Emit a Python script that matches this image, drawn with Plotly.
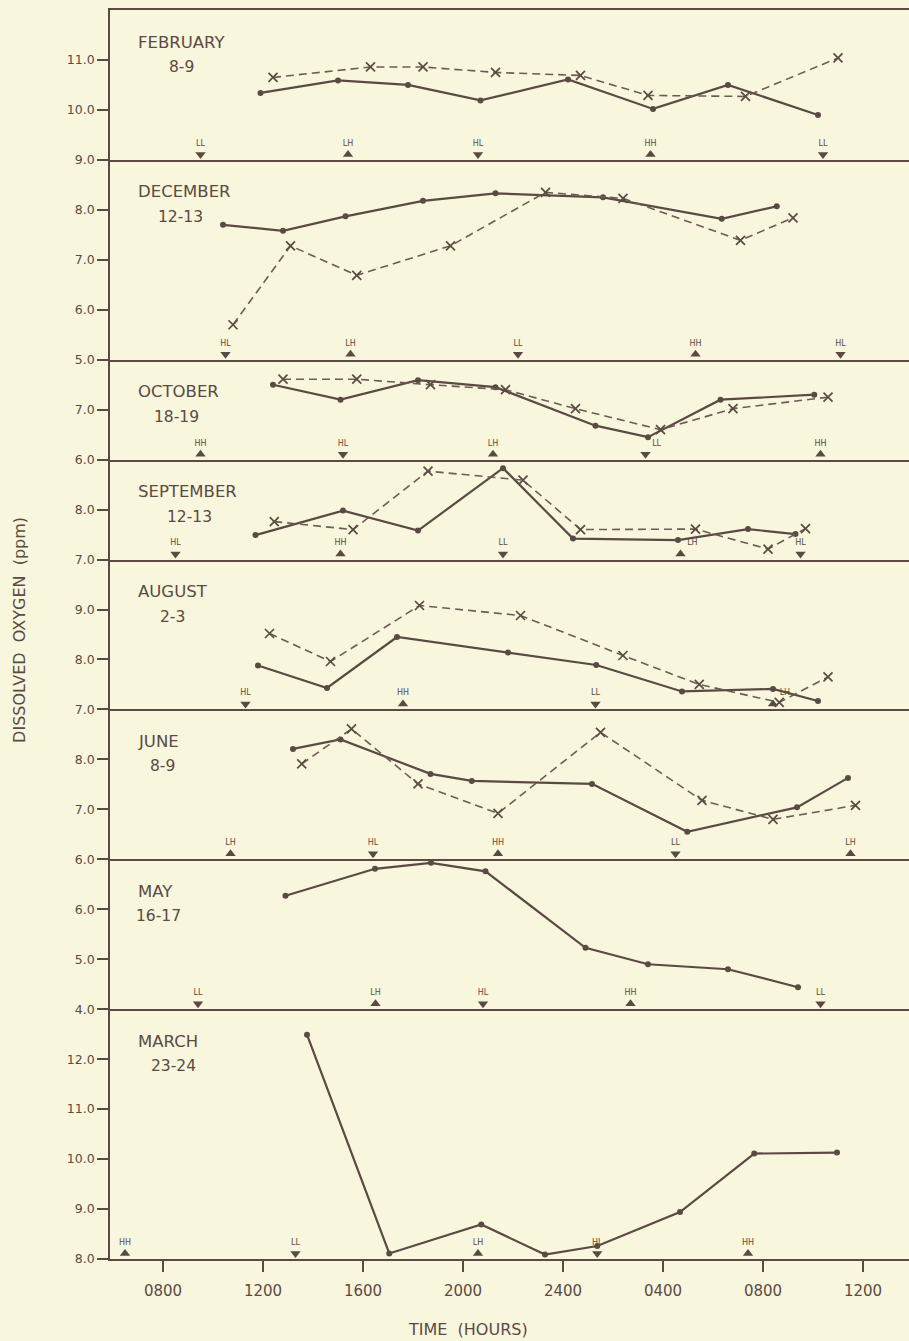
import plotly.graph_objects as go
from plotly.subplots import make_subplots

# ---------------- data (time in hours from 0000 of day 1; DO in ppm) ----------------
MONTHS = ["FEBRUARY", "DECEMBER", "OCTOBER", "SEPTEMBER", "AUGUST", "JUNE", "MAY", "MARCH"]
DATES = ["8-9", "12-13", "18-19", "12-13", "2-3", "8-9", "16-17", "23-24"]
Y_RANGES = [[9, 12], [5, 9], [6, 8], [7, 9], [7, 10], [6, 9], [4, 7], [8, 13]]

X_TICK_HOURS = [8, 12, 16, 20, 24, 28, 32, 36]
X_TICK_TEXT = ["0800", "1200", "1600", "2000", "2400", "0400", "0800", "1200"]

FEB_SOLID_T = [11.9, 15.0, 17.8, 20.7, 24.2, 27.6, 30.6, 34.2]
FEB_SOLID_DO = [10.34, 10.59, 10.50, 10.19, 10.61, 10.02, 10.50, 9.90]
FEB_DASH_T = [12.4, 16.3, 18.4, 21.3, 24.7, 27.4, 31.3, 35.0]
FEB_DASH_DO = [10.65, 10.86, 10.86, 10.75, 10.69, 10.29, 10.27, 11.04]
FEB_TIDE_T = [9.5, 15.4, 20.6, 27.5, 34.4]
FEB_TIDE = ["LL", "LH", "HL", "HH", "LL"]

DEC_SOLID_T = [10.4, 12.8, 15.3, 18.4, 21.3, 25.6, 30.35, 32.55]
DEC_SOLID_DO = [7.70, 7.58, 7.87, 8.18, 8.33, 8.25, 7.82, 8.07]
DEC_DASH_T = [10.8, 13.1, 15.75, 19.5, 23.3, 26.4, 31.1, 33.2]
DEC_DASH_DO = [5.70, 7.28, 6.69, 7.28, 8.35, 8.23, 7.39, 7.84]
DEC_TIDE_T = [10.5, 15.5, 22.2, 29.3, 35.1]
DEC_TIDE = ["HL", "LH", "LL", "HH", "HL"]

OCT_SOLID_T = [12.4, 15.1, 18.2, 21.3, 25.3, 27.4, 30.3, 34.05]
OCT_SOLID_DO = [7.50, 7.20, 7.59, 7.45, 6.68, 6.45, 7.20, 7.30]
OCT_DASH_T = [12.8, 15.75, 18.7, 21.7, 24.5, 27.9, 30.8, 34.6]
OCT_DASH_DO = [7.61, 7.61, 7.50, 7.40, 7.02, 6.60, 7.02, 7.25]
OCT_TIDE_T = [9.5, 15.2, 21.2, 27.3, 34.3]
OCT_TIDE = ["HH", "HL", "LH", "LL", "HH"]

SEP_SOLID_T = [11.7, 15.2, 18.2, 21.6, 24.4, 28.6, 31.4, 33.3]
SEP_SOLID_DO = [7.49, 7.98, 7.58, 8.83, 7.42, 7.39, 7.61, 7.51]
SEP_DASH_T = [12.45, 15.6, 18.6, 22.4, 24.7, 29.3, 32.2, 33.7]
SEP_DASH_DO = [7.76, 7.60, 8.77, 8.59, 7.60, 7.61, 7.21, 7.62]
SEP_TIDE_T = [8.5, 15.1, 21.6, 28.7, 33.5]
SEP_TIDE = ["HL", "HH", "LL", "LH", "HL"]

AUG_SOLID_T = [11.8, 14.56, 17.36, 21.8, 25.33, 28.76, 32.4, 34.2]
AUG_SOLID_DO = [7.88, 7.43, 8.45, 8.14, 7.89, 7.36, 7.41, 7.17]
AUG_DASH_T = [12.26, 14.7, 18.26, 22.3, 26.4, 29.45, 32.65, 34.6]
AUG_DASH_DO = [8.52, 7.96, 9.08, 8.88, 8.08, 7.50, 7.14, 7.65]
AUG_TIDE_T = [11.3, 17.6, 25.3, 32.4]
AUG_TIDE = ["HL", "HH", "LL", "LH"]

JUN_SOLID_T = [13.2, 15.1, 18.7, 20.35, 25.16, 28.97, 33.36, 35.4]
JUN_SOLID_DO = [8.21, 8.40, 7.71, 7.57, 7.51, 6.55, 7.04, 7.63]
JUN_DASH_T = [13.55, 15.54, 18.2, 21.4, 25.5, 29.56, 32.4, 35.7]
JUN_DASH_DO = [7.91, 8.61, 7.51, 6.92, 8.54, 7.18, 6.80, 7.08]
JUN_TIDE_T = [10.7, 16.4, 21.4, 28.5, 35.5]
JUN_TIDE = ["LH", "HL", "HH", "LL", "LH"]

MAY_SOLID_T = [12.9, 16.48, 18.72, 20.9, 24.9, 27.4, 30.6, 33.4]
MAY_SOLID_DO = [6.27, 6.81, 6.93, 6.76, 5.23, 4.90, 4.80, 4.44]
MAY_DASH_T = []
MAY_DASH_DO = []
MAY_TIDE_T = [9.4, 16.5, 20.8, 26.7, 34.3]
MAY_TIDE = ["LL", "LH", "HL", "HH", "LL"]

MAR_SOLID_T = [13.76, 17.05, 20.73, 23.28, 25.37, 28.68, 31.65, 34.96]
MAR_SOLID_DO = [12.49, 8.11, 8.69, 8.09, 8.26, 8.94, 10.11, 10.13]
MAR_DASH_T = []
MAR_DASH_DO = []
MAR_TIDE_T = [6.48, 13.3, 20.6, 25.37, 31.4]
MAR_TIDE = ["HH", "LL", "LH", "HL", "HH"]

SOLID_T = [FEB_SOLID_T, DEC_SOLID_T, OCT_SOLID_T, SEP_SOLID_T, AUG_SOLID_T, JUN_SOLID_T, MAY_SOLID_T, MAR_SOLID_T]
SOLID_DO = [FEB_SOLID_DO, DEC_SOLID_DO, OCT_SOLID_DO, SEP_SOLID_DO, AUG_SOLID_DO, JUN_SOLID_DO, MAY_SOLID_DO, MAR_SOLID_DO]
DASH_T = [FEB_DASH_T, DEC_DASH_T, OCT_DASH_T, SEP_DASH_T, AUG_DASH_T, JUN_DASH_T, MAY_DASH_T, MAR_DASH_T]
DASH_DO = [FEB_DASH_DO, DEC_DASH_DO, OCT_DASH_DO, SEP_DASH_DO, AUG_DASH_DO, JUN_DASH_DO, MAY_DASH_DO, MAR_DASH_DO]
TIDE_T = [FEB_TIDE_T, DEC_TIDE_T, OCT_TIDE_T, SEP_TIDE_T, AUG_TIDE_T, JUN_TIDE_T, MAY_TIDE_T, MAR_TIDE_T]
TIDE = [FEB_TIDE, DEC_TIDE, OCT_TIDE, SEP_TIDE, AUG_TIDE, JUN_TIDE, MAY_TIDE, MAR_TIDE]

# ---------------- style ----------------
BG = "#f8f6dc"
INK = "#5b4a44"
INK2 = "#6c5c54"
FONT = "DejaVu Sans"
X_RANGE = [5.88, 37.84]
TIDE_OFFSET = 0.11          # data units above panel floor (same px scale in every panel)
DATE_CENTER_PX = [181, 180, 176, 189, 172, 162, 158, 173]
TIDE_TEXTPOS = {(2, 3): "top right", (3, 3): "top right", (4, 3): "top right"}
GAP = "\u00a0" * 2

n = len(MONTHS)
heights = [r[1] - r[0] for r in Y_RANGES]
fig = make_subplots(rows=n, cols=1, shared_xaxes=True, vertical_spacing=0,
                    row_heights=[h / sum(heights) for h in heights])

for i in range(n):
    row = i + 1
    fig.add_trace(go.Scatter(x=SOLID_T[i], y=SOLID_DO[i], mode="lines+markers",
                             line=dict(color=INK, width=2.2),
                             marker=dict(symbol="circle", size=6, color=INK),
                             showlegend=False, hoverinfo="skip"), row=row, col=1)
    if DASH_T[i]:
        fig.add_trace(go.Scatter(x=DASH_T[i], y=DASH_DO[i], mode="lines+markers",
                                 line=dict(color=INK2, width=1.6, dash="8px,5px"),
                                 marker=dict(symbol="x-thin", size=9,
                                             line=dict(color=INK, width=1.7)),
                                 showlegend=False, hoverinfo="skip"), row=row, col=1)
    ymin = Y_RANGES[i][0]
    syms = ["triangle-up" if lbl[1] == "H" else "triangle-down" for lbl in TIDE[i]]
    tpos = [TIDE_TEXTPOS.get((i, j), "top center") for j in range(len(TIDE[i]))]
    fig.add_trace(go.Scatter(x=TIDE_T[i], y=[ymin + TIDE_OFFSET] * len(TIDE_T[i]),
                             mode="markers+text", text=TIDE[i], textposition=tpos,
                             textfont=dict(family=FONT, size=8, color=INK),
                             marker=dict(symbol=syms, size=9, color=INK),
                             showlegend=False, hoverinfo="skip"), row=row, col=1)

    ticks = list(range(Y_RANGES[i][0], Y_RANGES[i][1]))
    fig.update_yaxes(range=Y_RANGES[i], tickvals=ticks,
                     ticktext=[f"{v:.1f}" for v in ticks],
                     ticks="outside", ticklen=11, tickwidth=1.5, tickcolor=INK,
                     showline=True, linecolor=INK, linewidth=1.8,
                     showgrid=False, zeroline=False,
                     tickfont=dict(family=FONT, size=12.5, color=INK),
                     row=row, col=1)
    last = (i == n - 1)
    fig.update_xaxes(range=X_RANGE, showline=True, linecolor=INK, linewidth=2,
                     mirror=(i == 0), showgrid=False, zeroline=False,
                     tickvals=X_TICK_HOURS, ticktext=X_TICK_TEXT,
                     ticks="outside" if last else "", ticklen=11, tickwidth=1.5,
                     tickcolor=INK, showticklabels=last,
                     ticklabelstandoff=6 if last else 0,
                     tickfont=dict(family=FONT, size=15, color=INK),
                     row=row, col=1)

    xa = "x" if i == 0 else f"x{row}"
    ya = "y" if i == 0 else f"y{row}"
    fig.add_annotation(text=MONTHS[i], xref=f"{xa} domain", yref=f"{ya} domain",
                       x=0, y=1, xanchor="left", yanchor="middle",
                       xshift=26, yshift=-32, showarrow=False,
                       font=dict(family=FONT, size=16.5, color=INK))
    fig.add_annotation(text=DATES[i], xref=f"{xa} domain", yref=f"{ya} domain",
                       x=0, y=1, xanchor="center", yanchor="middle",
                       xshift=DATE_CENTER_PX[i] - 110, yshift=-57, showarrow=False,
                       font=dict(family=FONT, size=15.5, color=INK))

fig.add_annotation(text=f"DISSOLVED{GAP}OXYGEN{GAP}(ppm)",
                   xref="paper", yref="paper", x=-0.114, y=(1259 - 630) / 1249,
                   xanchor="center", yanchor="middle", textangle=-90, showarrow=False,
                   font=dict(family=FONT, size=16, color=INK))
fig.add_annotation(text=f"TIME{GAP}(HOURS)", xref="paper", yref="paper",
                   x=(468 - 110) / 799, y=(1259 - 1329) / 1249, xanchor="center",
                   yanchor="middle", showarrow=False,
                   font=dict(family=FONT, size=16, color=INK))

fig.update_layout(width=909, height=1341, paper_bgcolor=BG, plot_bgcolor=BG,
                  margin=dict(l=110, r=0, t=10, b=82), showlegend=False)

fig.write_html("out.html", config={"displayModeBar": False},
               post_script="document.body.style.margin='0';document.body.style.overflow='hidden';")
